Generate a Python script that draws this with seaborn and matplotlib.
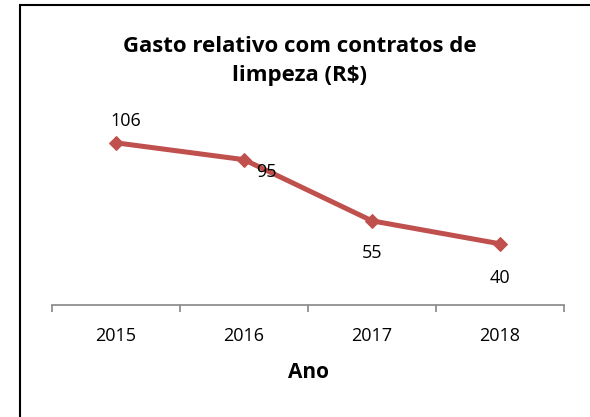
import matplotlib
matplotlib.use("Agg")
import matplotlib.pyplot as plt
import seaborn as sns
import pandas as pd
from matplotlib.patches import Rectangle

anos = ["2015", "2016", "2017", "2018"]
gasto = [106, 95, 55, 40]
titulo = "Gasto relativo com contratos de\nlimpeza (R$)"
xlabel = "Ano"

sns.set_theme(style="white")
plt.rcParams["font.family"] = ["Open Sans", "DejaVu Sans"]
plt.rcParams["text.color"] = "black"
plt.rcParams["axes.labelcolor"] = "black"
plt.rcParams["xtick.color"] = "black"

df = pd.DataFrame({"Ano": anos, "Gasto": gasto})

fig = plt.figure(figsize=(5.9, 4.17), dpi=100)
ax = fig.add_axes([52/590, (417-305)/417, 512/590, 183.6/417])

sns.lineplot(data=df, x="Ano", y="Gasto", ax=ax, color="#C0504D", linewidth=3.6,
             marker="D", markersize=7, markeredgecolor="#C0504D", sort=False)

ax.set_xlim(-0.5, 3.5)
ax.set_ylim(0, 120)
ax.set_yticks([])
ax.set_ylabel("")
for s in ["top", "right", "left"]:
    ax.spines[s].set_visible(False)
ax.spines["bottom"].set_color("#868686")
ax.spines["bottom"].set_linewidth(1.2)
ax.set_xticks(range(len(anos)))
ax.set_xticklabels(anos, fontsize=13)
ax.tick_params(axis="x", which="major", length=0, pad=16, labelcolor="black")
ax.set_xticks([-0.5, 0.5, 1.5, 2.5, 3.5], minor=True)
ax.tick_params(axis="x", which="minor", length=5, width=1.2, color="#868686", bottom=True)
ax.set_xlabel(xlabel, fontsize=15, fontweight="bold", labelpad=12, color="black")

# data labels
offsets = [(10, 22, "center"), (22, -12, "center"), (0, -32, "center"), (0, -34, "center")]
for i, v in enumerate(gasto):
    dx, dy, ha = offsets[i]
    ax.annotate(str(v), (i, v), xytext=(dx, dy), textcoords="offset pixels",
                ha=ha, va="center", fontsize=13, color="black")

fig.text(300/590, 1 - 61/417, titulo, ha="center", va="center", fontsize=16,
         fontweight="bold", linespacing=1.55, color="black")

fig.patches.append(Rectangle((20/590, -0.1), 1.2, 1 - 5/417 + 0.1, transform=fig.transFigure,
                             fill=False, edgecolor="black", linewidth=1.5, figure=fig))

fig.savefig("out.png", dpi=100)
